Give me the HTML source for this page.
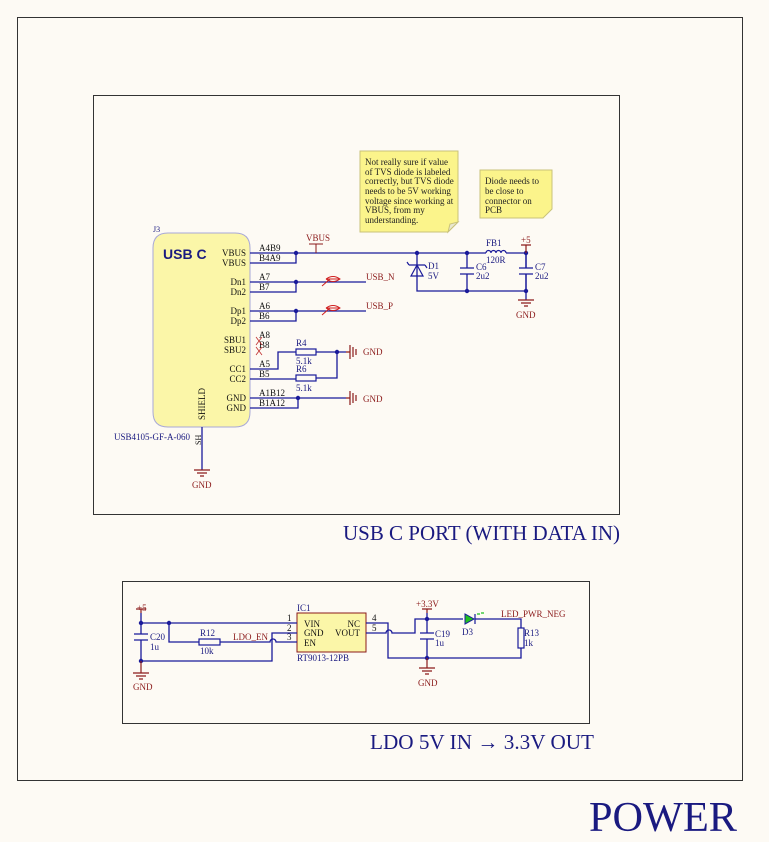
<!DOCTYPE html>
<html><head><meta charset="utf-8"><style>
html,body{margin:0;padding:0;background:#fdfaf4;}
svg{display:block;font-family:"Liberation Serif",serif;}
</style></head><body>
<svg width="769" height="842" viewBox="0 0 769 842" xmlns="http://www.w3.org/2000/svg">
<rect x="0" y="0" width="769" height="842" fill="#fdfaf4"/>
<rect x="17.5" y="17.5" width="725" height="763" fill="none" stroke="#333" stroke-width="1"/>
<rect x="93.5" y="95.5" width="526" height="419" fill="none" stroke="#333" stroke-width="1"/>
<rect x="122.5" y="581.5" width="467" height="142" fill="none" stroke="#333" stroke-width="1"/>

<!-- notes -->
<g font-size="9" fill="#222">
<polygon points="360,151 458,151 458,222 448,232 360,232" fill="#fbf48b" stroke="#c9c27a"/>
<polygon points="448,232 450,224 458,222" fill="#e9e7d0" stroke="#c9c27a"/>
<text x="365" y="165">Not really sure if value</text>
<text x="365" y="175">of TVS diode is labeled</text>
<text x="365" y="184">correctly, but TVS diode</text>
<text x="365" y="194">needs to be 5V working</text>
<text x="365" y="204">voltage since working at</text>
<text x="365" y="213">VBUS, from my</text>
<text x="365" y="223">understanding.</text>
<polygon points="480,170 552,170 552,209 543,218 480,218" fill="#fbf48b" stroke="#c9c27a"/>
<text x="485" y="184">Diode needs to</text>
<text x="485" y="194">be close to</text>
<text x="485" y="204">connector on</text>
<text x="485" y="213">PCB</text>
</g>

<!-- USB C body -->
<path d="M168,233 H235 Q250,233 250,248 V412 Q250,427 235,427 H168 Q153,427 153,412 V248 Q153,233 168,233 Z" fill="#fbf6a8" stroke="#a8a8d8"/>
<text x="163" y="259" font-family="Liberation Sans,sans-serif" font-weight="bold" font-size="14" fill="#1a1a80">USB C</text>
<text x="153" y="232" font-size="8" fill="#1a1a80">J3</text>
<text x="114" y="440" font-size="9" fill="#1a1a80">USB4105-GF-A-060</text>
<g font-size="9" fill="#111" text-anchor="end">
<text x="246" y="256">VBUS</text><text x="246" y="266">VBUS</text>
<text x="246" y="285">Dn1</text><text x="246" y="295">Dn2</text>
<text x="246" y="314">Dp1</text><text x="246" y="324">Dp2</text>
<text x="246" y="343">SBU1</text><text x="246" y="353">SBU2</text>
<text x="246" y="372">CC1</text><text x="246" y="382">CC2</text>
<text x="246" y="401">GND</text><text x="246" y="411">GND</text>
</g>
<text transform="translate(205,420) rotate(-90)" font-size="9" fill="#111">SHIELD</text>
<text transform="translate(201,445) rotate(-90)" font-size="8" fill="#111">SH</text>

<!-- wires usb -->
<g stroke="#1a1a9a" stroke-width="1.3" fill="none">
<path d="M250,253 H526"/><path d="M250,263 H296 V253"/>
<path d="M250,282 H366"/><path d="M250,292 H296 V282"/>
<path d="M250,311 H366"/><path d="M250,321 H296 V311"/>
<path d="M250,369 H278 V352 H296"/><path d="M250,379 H296"/>
<path d="M316,352 H346"/><path d="M316,378 H337 V352"/>
<path d="M250,398 H346"/><path d="M250,408 H298 V398"/>
<path d="M202,427 V470"/>
<path d="M417,253 V291 H526 V253"/><path d="M467,253 V291"/>
<path d="M526,253 V300"/>
</g>
<g fill="#1a1a9a">
<circle cx="296" cy="253" r="2.2"/><circle cx="296" cy="282" r="2.2"/><circle cx="296" cy="311" r="2.2"/>
<circle cx="337" cy="352" r="2.2"/><circle cx="298" cy="398" r="2.2"/>
<circle cx="417" cy="253" r="2.2"/><circle cx="467" cy="253" r="2.2"/><circle cx="526" cy="253" r="2.2"/>
<circle cx="467" cy="291" r="2.2"/><circle cx="526" cy="291" r="2.2"/>
</g>
<g font-size="9" fill="#111">
<text x="259" y="251">A4B9</text><text x="259" y="261">B4A9</text>
<text x="259" y="280">A7</text><text x="259" y="290">B7</text>
<text x="259" y="309">A6</text><text x="259" y="319">B6</text>
<text x="259" y="338">A8</text><text x="259" y="348">B8</text>
<text x="259" y="367">A5</text><text x="259" y="377">B5</text>
<text x="259" y="396">A1B12</text><text x="259" y="406">B1A12</text>
</g>
<g stroke="#c03030" stroke-width="0.8"><path d="M256,337 L262,345 M262,337 L256,345 M256,347 L262,355 M262,347 L256,355"/></g>
<!-- VBUS net label -->
<g stroke="#8b1a1a" fill="none" stroke-width="1"><path d="M316,253 V244 M309,244 H323"/></g>
<text x="306" y="241" font-size="9" fill="#8b1a1a">VBUS</text>
<!-- diff pair markers -->
<g stroke="#d02020" fill="none" stroke-width="1">
<path d="M322,286 L330,279 M326,279 Q333,274 340,279 Q333,284 326,279 M326,279 H340"/>
<path d="M322,315 L330,308 M326,308 Q333,303 340,308 Q333,313 326,308 M326,308 H340"/>
</g>
<text x="366" y="280" font-size="9" fill="#8b1a1a">USB_N</text>
<text x="366" y="309" font-size="9" fill="#8b1a1a">USB_P</text>
<!-- resistors -->
<g fill="#fdfaf4" stroke="#1a1a9a" stroke-width="1.2">
<rect x="296" y="349" width="20" height="6"/><rect x="296" y="375" width="20" height="6"/>
</g>
<g font-size="9" fill="#1a1a80">
<text x="296" y="346">R4</text><text x="296" y="364">5.1k</text>
<text x="296" y="372">R6</text><text x="296" y="391">5.1k</text>
</g>
<!-- GND side symbols -->
<g stroke="#8b1a1a" stroke-width="1.2">
<path d="M346,352 H350 M350,345 V359 M353,347 V357 M356,349 V355"/>
<path d="M346,398 H350 M350,391 V405 M353,393 V403 M356,395 V401"/>
<path d="M194,470 H210 M197,473 H207 M200,476 H204"/>
<path d="M518,300 H534 M521,303 H531 M524,306 H528"/>
<path d="M526,245 V253 M521,245 H531"/>
</g>
<g font-size="9" fill="#8b1a1a">
<text x="363" y="355">GND</text><text x="363" y="402">GND</text>
<text x="192" y="488">GND</text><text x="516" y="318">GND</text>
<text x="521" y="243">+5</text>
</g>
<!-- D1 -->
<g stroke="#1a1a9a" stroke-width="1.2" fill="none">
<path d="M411,276 L417,265 L423,276 Z M409,265 H425 M409,265 L407,262 M425,265 L427,268"/>
</g>
<text x="428" y="269" font-size="9" fill="#1a1a80">D1</text><text x="428" y="279" font-size="9" fill="#1a1a80">5V</text>
<!-- caps -->
<g stroke="#1a1a9a" stroke-width="1.3">
<rect x="460" y="268" width="14" height="6" fill="#fdfaf4" stroke="none"/>
<path d="M460,268 H474 M460,274 H474"/>
<rect x="519" y="268" width="14" height="6" fill="#fdfaf4" stroke="none"/>
<path d="M519,268 H533 M519,274 H533"/>
</g>
<g font-size="9" fill="#1a1a80">
<text x="476" y="270">C6</text><text x="476" y="279">2u2</text>
<text x="535" y="270">C7</text><text x="535" y="279">2u2</text>
<text x="486" y="246">FB1</text><text x="486" y="263">120R</text>
</g>
<rect x="486" y="250" width="20" height="6" fill="#fdfaf4" stroke="none"/>
<path d="M486,253 a2.5,2.5 0 0 1 5,0 a2.5,2.5 0 0 1 5,0 a2.5,2.5 0 0 1 5,0 a2.5,2.5 0 0 1 5,0" fill="none" stroke="#1a1a9a" stroke-width="1.2"/>

<text x="343" y="540" font-size="21" fill="#1a1a80" textLength="277" lengthAdjust="spacingAndGlyphs">USB C PORT (WITH DATA IN)</text>

<!-- LDO section -->
<rect x="297" y="613" width="69" height="39" fill="#fbf6a8" stroke="#8b1a1a"/>
<g font-size="9" fill="#111">
<text x="304" y="627">VIN</text><text x="304" y="636">GND</text><text x="304" y="646">EN</text>
<text x="360" y="627" text-anchor="end">NC</text><text x="360" y="636" text-anchor="end">VOUT</text>
<text x="287" y="621">1</text><text x="287" y="631">2</text><text x="287" y="640">3</text>
<text x="372" y="621">4</text><text x="372" y="631">5</text>
</g>
<text x="297" y="611" font-size="9" fill="#1a1a80">IC1</text>
<text x="297" y="661" font-size="9" fill="#1a1a80">RT9013-12PB</text>
<g stroke="#1a1a9a" stroke-width="1.3" fill="none">
<path d="M141,623 H297"/><path d="M141,613 V661"/>
<path d="M169,623 V642 H199 M220,642 H270 a3,3 0 0 1 6,0 H297"/>
<path d="M141,661 H272 V633 H297"/>
<path d="M366,623 H388 V658 H521 V648"/>
<path d="M366,633 H386 a3,3 0 0 1 6,0 H415 V619 H463"/>
<path d="M475,619 H521 V628"/>
<path d="M427,613 V658"/>
</g>
<g fill="#fdfaf4"><rect x="134" y="634" width="14" height="6"/><rect x="420" y="633" width="14" height="6"/></g>
<g stroke="#1a1a9a" stroke-width="1.3"><path d="M134,634 H148 M134,640 H148 M420,633 H434 M420,639 H434"/></g>
<g fill="#fdfaf4" stroke="#1a1a9a" stroke-width="1.2">
<rect x="199" y="639" width="21" height="6"/><rect x="518" y="628" width="6" height="20"/>
</g>
<polygon points="465,614 465,624 474,619" fill="#20c020" stroke="#1a1a9a"/>
<path d="M475,614 V624" stroke="#1a1a9a" stroke-width="1.2"/>
<path d="M477,614 h3 M481,613 h3" stroke="#20c020" stroke-width="1.2"/>
<g fill="#1a1a9a">
<circle cx="141" cy="623" r="2.2"/><circle cx="169" cy="623" r="2.2"/><circle cx="141" cy="661" r="2.2"/>
<circle cx="427" cy="619" r="2.2"/><circle cx="427" cy="658" r="2.2"/>
</g>
<g stroke="#8b1a1a" stroke-width="1.2">
<path d="M141,613 V609 M136,609 H146"/>
<path d="M141,661 V673 M133,673 H149 M136,676 H146 M139,679 H143"/>
<path d="M427,613 V609 M422,609 H432"/>
<path d="M427,658 V668 M419,668 H435 M422,671 H432 M425,674 H429"/>
</g>
<g font-size="9" fill="#8b1a1a">
<text x="137" y="611">+5</text><text x="133" y="690">GND</text>
<text x="416" y="607">+3.3V</text><text x="418" y="686">GND</text>
<text x="233" y="640">LDO_EN</text><text x="501" y="617">LED_PWR_NEG</text>
</g>
<g font-size="9" fill="#1a1a80">
<text x="150" y="640">C20</text><text x="150" y="650">1u</text>
<text x="200" y="636">R12</text><text x="200" y="654">10k</text>
<text x="435" y="637">C19</text><text x="435" y="646">1u</text>
<text x="462" y="635">D3</text>
<text x="524" y="636">R13</text><text x="524" y="646">1k</text>
</g>
<text x="370" y="749" font-size="21" fill="#1a1a80" textLength="224" lengthAdjust="spacingAndGlyphs">LDO 5V IN → 3.3V OUT</text>
<text x="589" y="831" font-size="42" fill="#1a1a80" textLength="148" lengthAdjust="spacingAndGlyphs">POWER</text>
</svg>
</body></html>
